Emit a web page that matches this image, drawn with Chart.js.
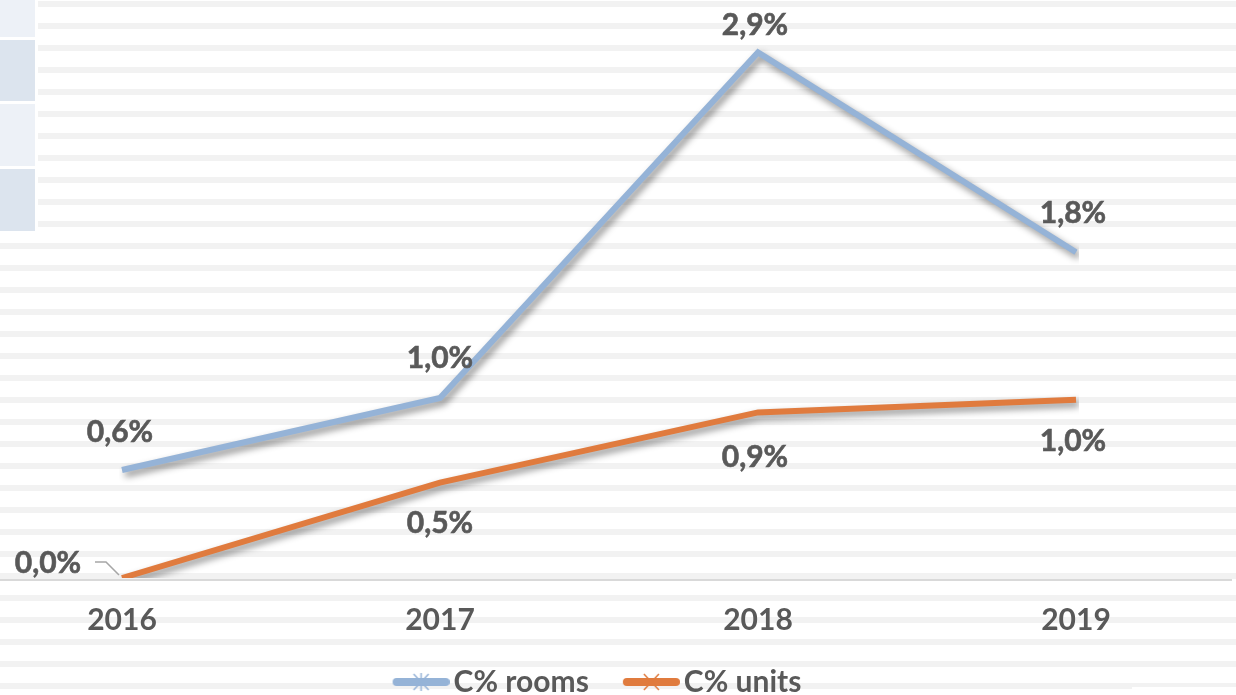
<!DOCTYPE html>
<html>
<head>
<meta charset="utf-8">
<script src="https://cdn.jsdelivr.net/npm/chart.js@4.4.1/dist/chart.umd.min.js"></script>
<style>
  html, body { margin: 0; padding: 0; background: #fff; overflow: hidden; }
  #wrap { position: absolute; left: 0; top: 0; width: 1236px; height: 707px; }
</style>
</head>
<body>
<div id="wrap"><canvas id="chart"></canvas></div>
<script>
// === DATA ===
const years = ['2016', '2017', '2018', '2019'];
const roomsValues = [0.6, 1.0, 2.92, 1.81];
const unitsValues = [0.0, 0.53, 0.92, 0.99];
const seriesNames = ['C% rooms', 'C% units'];

const roomsColor = '#95B3D7';
const unitsColor = '#E07B3E';
const textColor = '#595959';

// сдвиг подписей относительно точки (px)
const roomsLabelOffset = [[-2, -38], [0, -40], [-3, -27], [-3, -39]];
const unitsLabelOffset = [[-74, -15], [0, 41], [-3, 45], [-3, 42]];

function fmt(v) {
  return v.toFixed(1).replace('.', ',') + '%';
}

// маркер легенды: линия + звёздочка/крестик (слева пустое место = отступ между пунктами)
function makeMarker(color, star) {
  const c = document.createElement('canvas');
  c.width = 88; c.height = 20;
  const g = c.getContext('2d');
  g.strokeStyle = color;
  g.lineWidth = 8;
  g.lineCap = 'round';
  g.beginPath(); g.moveTo(35, 10); g.lineTo(84, 10); g.stroke();
  g.lineWidth = 1.5;
  g.lineCap = 'butt';
  g.beginPath();
  g.moveTo(52, 2); g.lineTo(67, 18);
  g.moveTo(67, 2); g.lineTo(52, 18);
  if (star) { g.moveTo(59.5, 1); g.lineTo(59.5, 19); }
  g.stroke();
  return c;
}

// === ФОН (полосы + блоки слева) ===
const backgroundPlugin = {
  id: 'bg',
  afterLayout(chart) {
    // легенда чуть левее центра области графика
    chart.legend.left -= 12;
    chart.legend.right -= 12;
  },
  beforeDraw(chart) {
    const ctx = chart.ctx;
    ctx.save();
    ctx.fillStyle = '#fff';
    ctx.fillRect(0, 0, chart.width, chart.height);
    ctx.fillStyle = '#f2f2f2';
    for (let y = 1; y < chart.height; y += 22) {
      const x0 = y < 232 ? 38 : 0;
      ctx.fillRect(x0, y, chart.width - x0, 6);
    }
    ctx.fillStyle = '#fff';
    ctx.fillRect(1132, 687, chart.width, 30);
    const boxes = [[0, 37, '#edf1f7'], [40, 101, '#dce4ee'], [104, 166, '#edf1f7'], [169, 231, '#dce4ee']];
    boxes.forEach(b => {
      ctx.fillStyle = b[2];
      ctx.fillRect(0, b[0], 35, b[1] - b[0]);
    });
    ctx.restore();
  },
  beforeDatasetsDraw(chart) {
    const ctx = chart.ctx;
    const y0 = chart.scales.y.getPixelForValue(0) + 2;
    ctx.save();
    ctx.strokeStyle = '#d9d9d9';
    ctx.lineWidth = 2;
    ctx.beginPath();
    ctx.moveTo(0, y0);
    ctx.lineTo(1232, y0);
    ctx.stroke();
    ctx.restore();
  }
};

// === ТЕНЬ ЛИНИЙ ===
const shadowPlugin = {
  id: 'shadow',
  beforeDatasetDraw(chart) {
    const ctx = chart.ctx;
    ctx.save();
    ctx.shadowColor = 'rgba(0,0,0,0.45)';
    ctx.shadowBlur = 7;
    ctx.shadowOffsetX = 3;
    ctx.shadowOffsetY = 4;
  },
  afterDatasetDraw(chart) {
    chart.ctx.restore();
  }
};

// === ПОДПИСИ ЗНАЧЕНИЙ ===
const labelsPlugin = {
  id: 'labels',
  afterDatasetsDraw(chart) {
    const ctx = chart.ctx;
    ctx.save();
    ctx.font = 'bold 30px Lato';
    ctx.fillStyle = textColor;
    ctx.strokeStyle = textColor;
    ctx.lineWidth = 0.6;
    ctx.textAlign = 'center';
    ctx.textBaseline = 'middle';
    const offs = [roomsLabelOffset, unitsLabelOffset];
    chart.data.datasets.forEach((ds, di) => {
      const meta = chart.getDatasetMeta(di);
      meta.data.forEach((pt, i) => {
        const o = offs[di][i];
        ctx.fillText(fmt(ds.data[i]), pt.x + o[0], pt.y + o[1]);
        ctx.strokeText(fmt(ds.data[i]), pt.x + o[0], pt.y + o[1]);
      });
    });
    // выноска для 0,0%
    const p = chart.getDatasetMeta(1).data[0];
    ctx.strokeStyle = '#a6a6a6';
    ctx.lineWidth = 1.5;
    ctx.beginPath();
    ctx.moveTo(p.x - 27, p.y - 16);
    ctx.lineTo(p.x - 16, p.y - 16);
    ctx.lineTo(p.x - 3, p.y - 3);
    ctx.stroke();
    ctx.restore();
  }
};

const markers = [makeMarker(roomsColor, true), makeMarker(unitsColor, false)];

new Chart(document.getElementById('chart'), {
  type: 'line',
  data: {
    labels: years,
    datasets: [
      {
        label: seriesNames[0],
        data: roomsValues,
        borderColor: roomsColor,
        backgroundColor: roomsColor,
        borderWidth: 6,
        borderJoinStyle: 'miter',
        pointRadius: 0,
        tension: 0
      },
      {
        label: seriesNames[1],
        data: unitsValues,
        borderColor: unitsColor,
        backgroundColor: unitsColor,
        borderWidth: 6,
        borderJoinStyle: 'miter',
        pointRadius: 0,
        tension: 0
      }
    ]
  },
  options: {
    responsive: true,
    maintainAspectRatio: false,
    animation: false,
    layout: { padding: { left: 122, right: 160, top: 20, bottom: 0 } },
    scales: {
      x: {
        offset: false,
        grid: { display: false },
        border: { display: false },
        ticks: { color: textColor, font: { family: 'Lato', size: 30, weight: 'bold' }, padding: 16 },
        afterFit(scale) { scale.height = 75; }
      },
      y: {
        display: false,
        min: 0,
        max: 3.1
      }
    },
    plugins: {
      tooltip: { enabled: false },
      legend: {
        position: 'bottom',
        labels: {
          color: textColor,
          font: { family: 'Lato', size: 30, weight: 'bold' },
          usePointStyle: true,
          pointStyleWidth: 66,
          padding: 14,
          generateLabels(chart) {
            const items = Chart.defaults.plugins.legend.labels.generateLabels(chart);
            items.forEach((it, i) => { it.pointStyle = markers[i]; });
            return items;
          }
        }
      }
    }
  },
  plugins: [backgroundPlugin, shadowPlugin, labelsPlugin]
});
</script>
</body>
</html>
